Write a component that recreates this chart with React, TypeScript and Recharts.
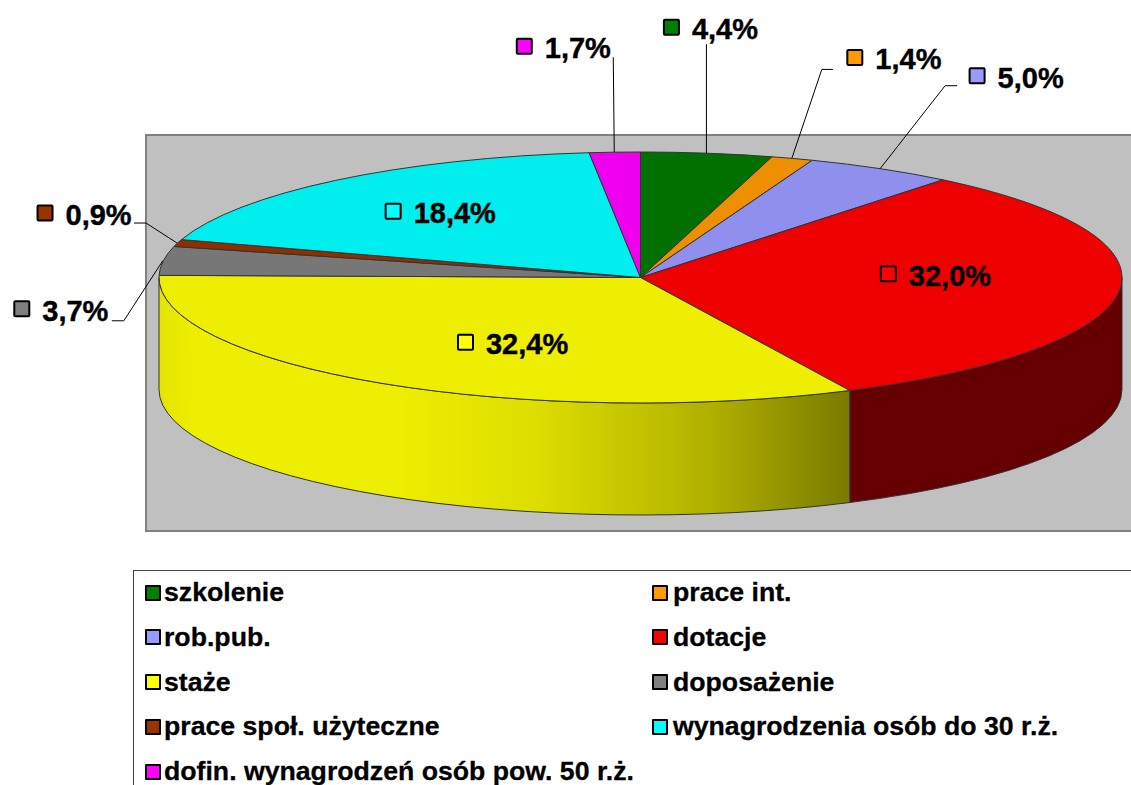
import { PieChart, Pie, Legend } from "recharts";

const categories = [
  "szkolenie",
  "prace int.",
  "rob.pub.",
  "dotacje",
  "staże",
  "doposażenie",
  "prace społ. użyteczne",
  "wynagrodzenia osób do 30 r.ż.",
  "dofin. wynagrodzeń osób pow. 50 r.ż.",
];
const shares = [4.4, 1.4, 5.0, 32.0, 32.4, 3.7, 0.9, 18.4, 1.7];
const legendColors = ["#008000", "#ff9900", "#9999ff", "#ff0000", "#ffff00", "#808080", "#993300", "#00ffff", "#ff00ff"];
const topColors = ["#007000", "#ee8f00", "#8f8fee", "#ee0000", "#eeee00", "#777777", "#8f2f00", "#00eeee", "#ee00ee"];
const wallColors = ["#004000", "#995c00", "#5c5c99", "#660000", "url(#stazeWall)", "#4d4d4d", "#5c1f00", "#009999", "#990099"];

// label box position relative to the point on the rim at the slice's mid angle
const labelOffsets = [
  [-44, -126], [54, -101], [88, -93], [-239, -18], [76, -41],
  [-150, 48], [-141, -30], [49, 31], [-99, -106],
];
const leaderLines: number[][][] = [
  [[0, -109]],
  [[30, -89], [41, -89]],
  [[65, -83], [77, -83]],
  [],
  [],
  [[-39, 60], [-51, 60]],
  [[-31, -20], [-43, -20]],
  [],
  [[-1, -95]],
];

const table = categories.map((name, i) => ({
  name,
  value: shares[i],
  fill: legendColors[i],
  top: topColors[i],
  wall: wallColors[i],
}));

const CX = 640.5;
const CY = 277.5;
const RX = 481.5;
const SQUASH = 125.5 / 481.5;
const DEPTH = 112;
const FONT = "'Liberation Sans', Arial, sans-serif";

const rim = (cx: number, cy: number, r: number, deg: number) => {
  const a = (deg * Math.PI) / 180;
  return [cx + r * Math.cos(a), cy - r * SQUASH * Math.sin(a)];
};

function Slice(props: any) {
  const { cx, cy, outerRadius: r, startAngle, endAngle, payload } = props;
  const row = payload ?? props;
  const ry = r * SQUASH;
  const [x0, y0] = rim(cx, cy, r, startAngle);
  const [x1, y1] = rim(cx, cy, r, endAngle);
  const large = Math.abs(startAngle - endAngle) > 180 ? 1 : 0;
  const top = `M${cx},${cy} L${x0},${y0} A${r},${ry} 0 ${large} 1 ${x1},${y1} Z`;

  // side wall only exists on the front half of the disc
  const wStart = Math.min(startAngle, 0);
  const wEnd = Math.max(endAngle, -180);
  let wall = null;
  if (wStart > wEnd) {
    const [a0, b0] = rim(cx, cy, r, wStart);
    const [a1, b1] = rim(cx, cy, r, wEnd);
    wall = (
      <path
        d={`M${a0},${b0} A${r},${ry} 0 0 1 ${a1},${b1} L${a1},${b1 + DEPTH} A${r},${ry} 0 0 0 ${a0},${b0 + DEPTH} Z`}
        fill={row.wall}
        stroke="#333"
        strokeWidth={1}
      />
    );
  }
  return (
    <g>
      {wall}
      <path d={top} fill={row.top} stroke="#333" strokeWidth={1} />
    </g>
  );
}

function SliceLabel(props: any) {
  const { cx, cy, outerRadius, midAngle, index, value } = props;
  const [px, py] = rim(cx, cy, outerRadius, midAngle);
  const [dx, dy] = labelOffsets[index];
  const line = leaderLines[index];
  const x = px + dx;
  const y = py + dy;
  return (
    <g>
      {line.length > 0 && (
        <polyline
          points={[[0, 0], ...line].map(([a, b]) => `${px + a - 0.5},${py + b}`).join(" ")}
          fill="none"
          stroke="#000"
          strokeWidth={1}
        />
      )}
      <rect x={x + 1} y={y - 7.5} width={15} height={15} rx={1} fill={legendColors[index]} stroke="#000" strokeWidth={2} />
      <text
        x={x + 29}
        y={y + 2}
        dominantBaseline="central"
        fontFamily={FONT}
        fontWeight="bold"
        fontSize={29}
        fill="#000"
        stroke="#000"
        strokeWidth={0.4}
      >
        {Number(value).toFixed(1).replace(".", ",")}%
      </text>
    </g>
  );
}

function LegendBox({ payload }: any) {
  return (
    <div
      style={{
        width: 1100,
        height: 240,
        boxSizing: "border-box",
        border: "1px solid #444",
        background: "#fff",
        display: "grid",
        gridTemplateColumns: "507px 1fr",
        gridAutoRows: "44.8px",
        paddingLeft: 11,
        fontFamily: FONT,
        fontWeight: "bold",
        fontSize: 26.67,
        lineHeight: "27px",
        color: "#000",
        WebkitTextStroke: "0.3px #000",
      }}
    >
      {(payload ?? []).map((item: any, i: number) => (
        <div key={item.value} style={{ display: "flex", alignItems: "center", whiteSpace: "nowrap", height: 43 }}>
          <span
            style={{
              width: 12,
              height: 12,
              border: "2px solid #000",
              borderRadius: 1,
              background: item.payload?.fill ?? item.color,
              marginRight: i % 2 === 0 ? 3 : 5,
              flex: "none",
            }}
          />
          {item.value}
        </div>
      ))}
    </div>
  );
}

export default function App() {
  return (
    <div style={{ position: "absolute", left: 0, top: 0, width: 1131, height: 785, overflow: "hidden", background: "#fff" }}>
      <PieChart width={1131} height={785} margin={{ top: 0, right: 0, bottom: 0, left: 0 }}>
        <defs>
          <linearGradient id="stazeWall" gradientUnits="userSpaceOnUse" x1={159} x2={849} y1={0} y2={0}>
            <stop offset="0" stopColor="#e4e400" />
            <stop offset="0.05" stopColor="#eeee00" />
            <stop offset="0.35" stopColor="#eeee00" />
            <stop offset="0.55" stopColor="#dddd00" />
            <stop offset="0.8" stopColor="#b0b000" />
            <stop offset="1" stopColor="#7a7a00" />
          </linearGradient>
        </defs>
        <rect x={146} y={135} width={1100} height={396} fill="#c0c0c0" stroke="#808080" strokeWidth={2} />
        <Pie
          data={table}
          dataKey="value"
          nameKey="name"
          cx={CX}
          cy={CY}
          outerRadius={RX}
          startAngle={90}
          endAngle={-270}
          shape={Slice}
          label={SliceLabel}
          labelLine={false}
          isAnimationActive={false}
        />
        <Legend
          content={<LegendBox />}
          itemSorter={null}
          wrapperStyle={{ position: "absolute", left: 133, top: 570, bottom: "auto", width: 1100 }}
        />
      </PieChart>
    </div>
  );
}
